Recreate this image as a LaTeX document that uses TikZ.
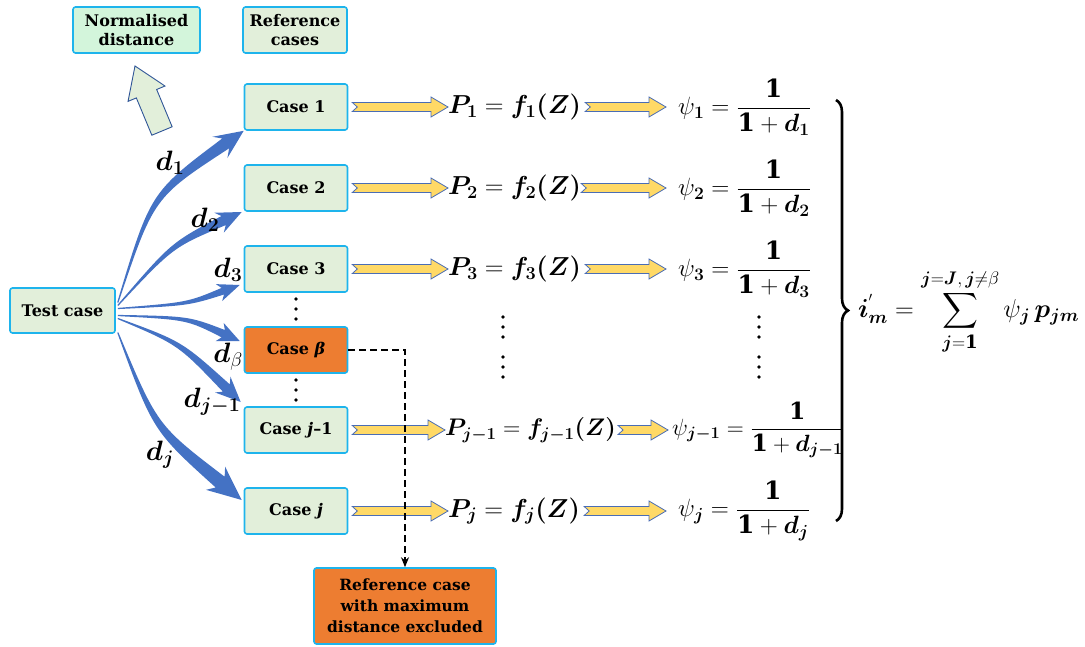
\RequirePackage{fix-cm}
\documentclass[tikz,border=0pt]{standalone}
\usepackage{fontspec}
\setmainfont{DejaVu Serif}
\usepackage{amsmath,bm}
\usetikzlibrary{calc,decorations.pathreplacing,arrows.meta}
\definecolor{boxfill}{HTML}{E2EFDA}
\definecolor{boxline}{HTML}{1EB4EC}
\definecolor{normfill}{HTML}{D3F5DB}
\definecolor{orng}{HTML}{ED7D31}
\definecolor{bluea}{HTML}{4472C4}
\definecolor{yfill}{HTML}{FFD966}
\definecolor{yline}{HTML}{4A6DB5}
\definecolor{hline}{HTML}{2F5597}
\newcommand\yarrow[2]{%
  \coordinate (ya-S) at #1; \coordinate (ya-E0) at #2;
  \coordinate (ya-E) at (ya-E0 |- ya-S);
  \filldraw[yarr] ($(ya-S)+(0,-4.5)$) -- ($(ya-E)+(-17,-4.5)$) -- ($(ya-E)+(-17,-10)$) -- (ya-E)
    -- ($(ya-E)+(-17,10)$) -- ($(ya-E)+(-17,4.5)$) -- ($(ya-S)+(0,4.5)$) -- ($(ya-S)+(5,0)$) -- cycle;}
\newcommand\taparrow[7]{%
  \coordinate (ta-S) at #1; \coordinate (ta-C) at #2; \coordinate (ta-E) at #3;
  \coordinate (ta-B) at ($(ta-E)!#6!(ta-C)$);
  \coordinate (ta-K) at ($(ta-E)!#7!(ta-C)$);
  \fill[bluea] ($(ta-S)!0.6pt!90:(ta-C)$) .. controls ($(ta-C)!0.5*#4!90:(ta-B)$) .. ($(ta-B)!#4!90:(ta-E)$)
    -- ($(ta-K)!#5!90:(ta-E)$) -- (ta-E) -- ($(ta-K)!#5!-90:(ta-E)$) -- ($(ta-B)!#4!-90:(ta-E)$)
    .. controls ($(ta-C)!0.5*#4!-90:(ta-B)$) .. ($(ta-S)!0.6pt!-90:(ta-C)$) -- cycle;}
\begin{document}
\begin{tikzpicture}[x=1pt,y=-1pt,
  box/.style={draw=boxline, line width=1.6pt, rounded corners=2.5pt, fill=boxfill,
    font=\fontsize{16}{19}\selectfont\bfseries, align=center, inner sep=0pt},
  casebox/.style={box, minimum width=103pt, minimum height=46pt, font=\fontsize{16}{18}\selectfont\bfseries},
  yarr/.style={fill=yfill, draw=yline, line width=0.8pt},
  eq/.style={inner sep=0pt, anchor=west, font=\fontsize{26}{30}\selectfont},
  seq/.style={inner sep=0pt, anchor=west, font=\fontsize{25}{29}\selectfont},
  dlab/.style={inner sep=0pt, font=\fontsize{28}{32}\selectfont}]
\useasboundingbox (0,0) rectangle (1085,647);
% boxes
\node[box, fill=normfill, minimum width=127pt, minimum height=46pt] (nd) at (136.5,30) {Normalised\\distance};
\node[box, minimum width=104pt, minimum height=46pt] (rc) at (295,30) {Reference\\cases};
\node[casebox] (c1) at (296,107) {Case 1};
\node[casebox] (c2) at (296,188) {Case 2};
\node[casebox] (c3) at (296,269) {Case 3};
\node[casebox, fill=orng] (cb) at (296,350) {Case \textit{β}};
\node[casebox] (cj1) at (296,430) {Case \textit{j}–1};
\node[casebox] (cj) at (296,511) {Case \textit{j}};
\node[box, minimum width=105pt, minimum height=45pt] (tc) at (62.5,310.5) {Test case};
\node[box, fill=orng, minimum width=182pt, minimum height=76pt, font=\fontsize{15.5}{21}\selectfont\bfseries] (rx) at (405,606) {Reference case\\with maximum\\distance excluded};
% hollow arrow
\coordinate (hT) at (135,66);
\coordinate (hB) at (162,131);
\coordinate (hN) at ($(hT)!30pt!(hB)$);
\filldraw[fill=boxfill, draw=hline, line width=0.9pt] ($(hB)!11pt!90:(hT)$) -- ($(hN)!11pt!90:(hT)$) -- ($(hN)!20pt!90:(hT)$) -- (hT)
  -- ($(hN)!20pt!-90:(hT)$) -- ($(hN)!11pt!-90:(hT)$) -- ($(hB)!11pt!-90:(hT)$) -- cycle;
% dots
\foreach \y in {299,309,319,380,390,400}{\fill (296,\y) circle (1.8pt);}
\foreach \y in {317,327,337,357,367,377}{\fill (503,\y) circle (1.8pt); \fill (759,\y) circle (1.8pt);}
% blue tapered arrows
\taparrow{($(tc.east)+(2,-8)$)}{(152,195)}{(c1.south west)}{6pt}{13pt}{22pt}{29pt}
\taparrow{($(tc.east)+(2,-5)$)}{(172,245)}{($(c2.west)+(-2,24)$)}{5pt}{11pt}{20pt}{25pt}
\taparrow{($(tc.east)+(2,-2)$)}{(188,304)}{($(c3.west)+(-4,16)$)}{3.5pt}{9pt}{18pt}{22pt}
\taparrow{($(tc.east)+(2,5)$)}{(188,318)}{($(cb.west)+(-4,-9)$)}{4pt}{10pt}{18pt}{22pt}
\taparrow{($(tc.east)+(2,8)$)}{(180,343)}{($(cj1.west)+(-3,-28)$)}{5pt}{11pt}{20pt}{25pt}
\taparrow{($(tc.east)+(2,22)$)}{(155,428)}{($(cj.west)+(-2,-11)$)}{7pt}{15pt}{28pt}{34pt}
% d labels
\node[dlab] (l1) at (170,163) {$\bm d_{\bm 1}$};
\node[dlab] (l2) at (205,220) {$\bm d_{\bm 2}$};
\node[dlab] (l3) at (228,270) {$\bm d_{\bm 3}$};
\node[dlab] (lb) at (228,357) {$\bm d_{\beta}$};
\node[dlab] (lj1) at (212,402) {$\bm d_{\bm j\bm -\bm 1}$};
\node[dlab] (lj) at (160,455) {$\bm d_{\bm j}$};
% equations
\node[eq] (p1) at (448,107) {$\bm P_{\bm 1}=\bm f_{\bm 1}\bm(\bm Z\bm)$};
\node[eq] (p2) at (448,188) {$\bm P_{\bm 2}=\bm f_{\bm 2}\bm(\bm Z\bm)$};
\node[eq] (p3) at (448,269) {$\bm P_{\bm 3}=\bm f_{\bm 3}\bm(\bm Z\bm)$};
\node[eq, font=\fontsize{24}{28}\selectfont] (pj1) at (445,430) {$\bm P_{\bm j\bm-\bm 1}=\bm f_{\bm j\bm -\bm 1}\bm(\bm Z\bm)$};
\node[eq] (pj) at (448,511) {$\bm P_{\bm j}=\bm f_{\bm j}\bm(\bm Z\bm)$};
\node[seq] (s1) at (678,107) {$\psi_{\bm 1}=\dfrac{\mathbf 1}{\mathbf 1+\bm d_{\bm 1}}$};
\node[seq] (s2) at (678,188) {$\psi_{\bm 2}=\dfrac{\mathbf 1}{\mathbf 1+\bm d_{\bm 2}}$};
\node[seq] (s3) at (678,269) {$\psi_{\bm 3}=\dfrac{\mathbf 1}{\mathbf 1+\bm d_{\bm 3}}$};
\node[seq, font=\fontsize{23.5}{28}\selectfont] (sj1) at (672,430) {$\psi_{\bm j\bm -\bm 1}=\dfrac{\mathbf 1}{\mathbf 1+\bm d_{\bm j\bm -\bm 1}}$};
\node[seq] (sj) at (678,511) {$\psi_{\bm j}=\dfrac{\mathbf 1}{\mathbf 1+\bm d_{\bm j}}$};
% yellow arrows
\yarrow{($(c1.east)+(4,0)$)}{(p1.west)}
\yarrow{($(c2.east)+(4,0)$)}{(p2.west)}
\yarrow{($(c3.east)+(4,0)$)}{(p3.west)}
\yarrow{($(cj1.east)+(4,0)$)}{(pj1.west)}
\yarrow{($(cj.east)+(4,0)$)}{(pj.west)}
\yarrow{($(p1.east)+(4,0)$)}{($(s1.west)+(-12,0)$)}
\yarrow{($(p2.east)+(0,0)$)}{($(s2.west)+(-12,0)$)}
\yarrow{($(p3.east)+(4,0)$)}{($(s3.west)+(-12,0)$)}
\yarrow{($(pj1.east)+(2,0)$)}{($(sj1.west)+(-4,0)$)}
\yarrow{($(pj.east)+(4,0)$)}{($(sj.west)+(-12,0)$)}
% dashed
\draw[dash pattern=on 7pt off 4pt, line width=1.3pt, -{Stealth[length=10pt,width=8pt]}] (cb.east) -| (rx.north);
% brace
\coordinate (bt) at (836,100);
\coordinate (bb) at (836,521);
\draw[line width=2.6pt, decorate, decoration={brace, amplitude=12pt}] (bt) -- (bb);
\node[seq, font=\fontsize{26}{30}\selectfont] (im) at (858,312) {$\bm i^{'}_{\bm m}=\displaystyle\sum_{\bm j=\mathbf 1}^{\bm j=\bm J,\,\bm j\neq\beta}\psi_{\bm j}\,\bm p_{\bm j\bm m}$};
\end{tikzpicture}
\end{document}
